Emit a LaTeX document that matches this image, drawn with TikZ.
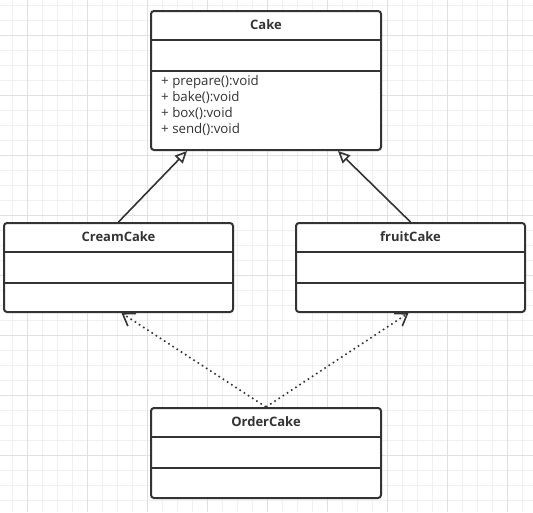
\documentclass[tikz,border=0pt]{standalone}
\usepackage{fontspec}
\setmainfont{Open Sans}
\usetikzlibrary{arrows.meta}

\definecolor{gridminor}{HTML}{F0F0F0}
\definecolor{gridmajor}{HTML}{E0E0E0}
\definecolor{umlline}{HTML}{333333}

\tikzset{
  classbox/.style={draw=umlline, line width=2pt, rounded corners=3pt, fill=white, inner sep=0pt},
  classname/.style={font=\bfseries\fontsize{13}{15}\selectfont, text=umlline},
  member/.style={font=\fontsize{13.3}{16}\selectfont, text=umlline, align=left, anchor=north west, inner sep=0pt},
  divider/.style={draw=umlline, line width=2pt},
  inherit/.style={draw=umlline, line width=1.6pt, -{Triangle[open, length=12pt, width=11pt]}},
  depend/.style={draw=umlline, line width=1.6pt, dash pattern=on 1.6pt off 3.4pt, -{Straight Barb[length=11pt, width=15pt]}}
}

\begin{document}
\begin{tikzpicture}[x=1pt, y=-1pt]
  \useasboundingbox (0,0) rectangle (533,512);
  % grid
  \fill[white] (0,0) rectangle (533,512);
  \foreach \gx in {12,27,...,527} \draw[gridminor, line width=1pt] (\gx,0) -- (\gx,512);
  \foreach \gy in {5,20,...,510} \draw[gridminor, line width=1pt] (0,\gy) -- (533,\gy);
  \foreach \gx in {27,87,...,507} \draw[gridmajor, line width=1pt] (\gx,0) -- (\gx,512);
  \foreach \gy in {35,95,...,455} \draw[gridmajor, line width=1pt] (0,\gy) -- (533,\gy);

  % classes
  \node[classbox, minimum width=230pt, minimum height=139pt] (cake) at (266,80.5) {};
  \node[classbox, minimum width=229pt, minimum height=89pt] (cream) at (118.5,267.5) {};
  \node[classbox, minimum width=229pt, minimum height=89pt] (fruit) at (410.5,267.5) {};
  \node[classbox, minimum width=230pt, minimum height=90pt] (order) at (266,453) {};

  \foreach \cls in {cake,cream,fruit,order} {
    \draw[divider] ([yshift=-30pt]\cls.north west) -- ([yshift=-30pt]\cls.north east);
    \draw[divider] ([yshift=-61pt]\cls.north west) -- ([yshift=-61pt]\cls.north east);
  }

  \node[classname] (cakename) at ([yshift=-15pt]cake.north) {Cake};
  \node[classname] (creamname) at ([yshift=-15pt]cream.north) {CreamCake};
  \node[classname] (fruitname) at ([yshift=-15pt]fruit.north) {fruitCake};
  \node[classname] (ordername) at ([yshift=-15pt]order.north) {OrderCake};

  \node[member] (cakeops) at ([xshift=11pt, yshift=-65pt]cake.north west)
    {+ prepare():void\\+ bake():void\\+ box():void\\+ send():void};

  % relations
  \draw[inherit] (cream.north) -- ([xshift=-79pt]cake.south);
  \draw[inherit] (fruit.north) -- ([xshift=72pt]cake.south);
  \draw[depend] (order.north) -- ([xshift=3pt]cream.south);
  \draw[depend] (order.north) -- ([xshift=-2pt]fruit.south);
\end{tikzpicture}
\end{document}
